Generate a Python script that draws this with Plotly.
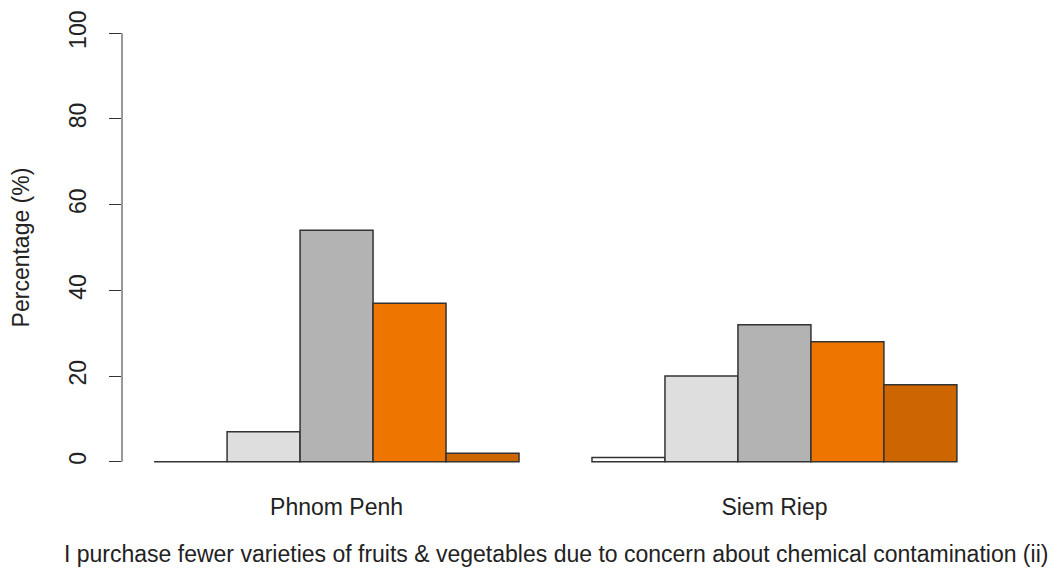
import plotly.graph_objects as go

# Survey responses by city (percent of respondents)
cities = ["Phnom Penh", "Siem Riep"]
levels = ["Response 1", "Response 2", "Response 3", "Response 4", "Response 5"]
pct_level1 = [0, 1]
pct_level2 = [7, 20]
pct_level3 = [54, 32]
pct_level4 = [37, 28]
pct_level5 = [2, 18]
series = [pct_level1, pct_level2, pct_level3, pct_level4, pct_level5]
colors = ["#FFFFFF", "#DEDEDE", "#B3B3B3", "#EE7600", "#CD6600"]

y_ticks = [0, 20, 40, 60, 80, 100]
x_title = ("I purchase fewer varieties of fruits & vegetables due to concern "
           "about chemical contamination (ii)")

FONT = "Liberation Sans, Arial, sans-serif"
TXT = "#222222"
FS = 23

fig = go.Figure()
for name, vals, col in zip(levels, series, colors):
    fig.add_trace(go.Bar(
        x=cities, y=vals, name=name,
        marker=dict(color=col, line=dict(color="#333333", width=1.5)),
        showlegend=False,
    ))

fig.update_layout(
    width=1053, height=577,
    margin=dict(l=122, r=64, t=11, b=98),
    paper_bgcolor="white", plot_bgcolor="white",
    barmode="group", bargap=1/6, bargroupgap=0,
    font=dict(family=FONT, size=FS, color=TXT),
    xaxis=dict(
        range=[-0.49, 1.49], showgrid=False, zeroline=False, showline=False,
        ticks="", ticklabelstandoff=12,
        tickfont=dict(size=FS, color=TXT),
    ),
    yaxis=dict(
        range=[-4, 104], showgrid=False, zeroline=False, showline=False,
        tickmode="array", tickvals=y_ticks, ticktext=[str(v) for v in y_ticks],
        ticks="outside", ticklen=12, tickwidth=1, tickcolor="#333333",
        tickangle=-90, ticklabelstandoff=14,
        tickfont=dict(size=FS, color=TXT),
        title=dict(text="Percentage (%)", standoff=28,
                   font=dict(size=FS, color=TXT)),
    ),
    shapes=[dict(type="line", xref="paper", yref="y", x0=0, x1=0,
                 y0=y_ticks[0], y1=y_ticks[-1],
                 line=dict(color="#333333", width=1))],
    annotations=[dict(text=x_title, xref="paper", yref="paper",
                      x=0.5, y=0, yshift=-60, xanchor="center", yanchor="top",
                      showarrow=False, font=dict(size=FS, color=TXT))],
)

fig.write_html("out.html")
